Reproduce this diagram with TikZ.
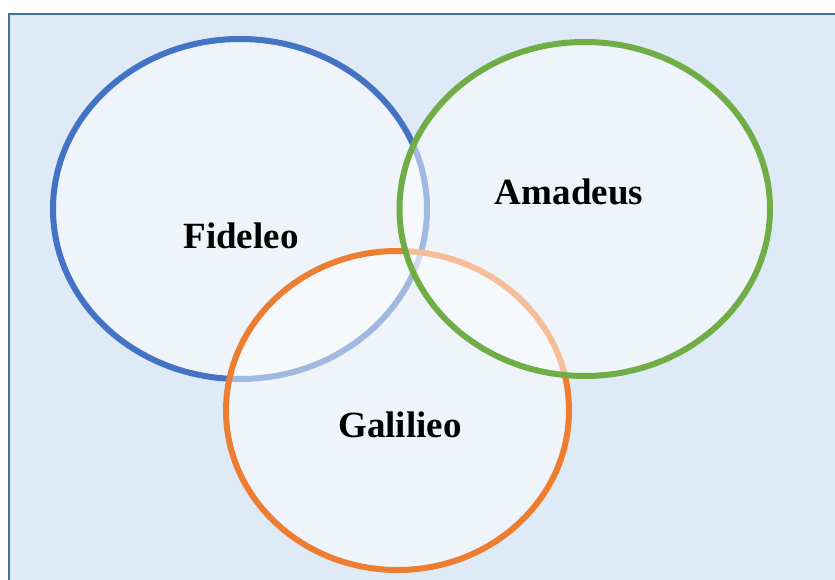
\documentclass[tikz,border=0pt]{standalone}
\usepackage{fontspec}
\setmainfont{Liberation Serif}
\usetikzlibrary{positioning}
\definecolor{ringBlue}{HTML}{4472C4}
\definecolor{ringOrange}{HTML}{ED7D31}
\definecolor{ringGreen}{HTML}{70AD47}
\definecolor{frameBlue}{HTML}{41719C}
\definecolor{softBgA}{HTML}{DEEAF6}
\newcommand{\DrawVennSet}[4]{
    % #1: centre, #2: x radius, #3: y radius, #4: colour
    \draw[setRing, draw=#4] (#1) ellipse [x radius=#2, y radius=#3];
}
\begin{document}
\begin{tikzpicture}[x=1pt, y=-1pt,
        setRing/.style={line width=6pt, fill=white, fill opacity=0.5, draw opacity=1},
        setLabel/.style={anchor=base, text=black, font=\fontsize{37}{40}\selectfont\bfseries}]
        \useasboundingbox (0,0) rectangle (835,580);

        % Background panel
        \draw[fill=softBgA, draw=frameBlue, line width=2.2pt] (9,14) rectangle (860,600);

        % Sets
        \DrawVennSet{240,209}{187}{170}{ringBlue}
        \DrawVennSet{397.5,410.5}{171.5}{159.5}{ringOrange}
        \DrawVennSet{584.75,209}{185.25}{167}{ringGreen}

        % Labels inside
        \node[setLabel] (fideleo) at (241,248) {Fideleo};
        \node[setLabel] (amadeus) at (569,205) {Amadeus};
        \node[setLabel] (galilieo) at (400,437) {Galilieo};
    \end{tikzpicture}
\end{document}
